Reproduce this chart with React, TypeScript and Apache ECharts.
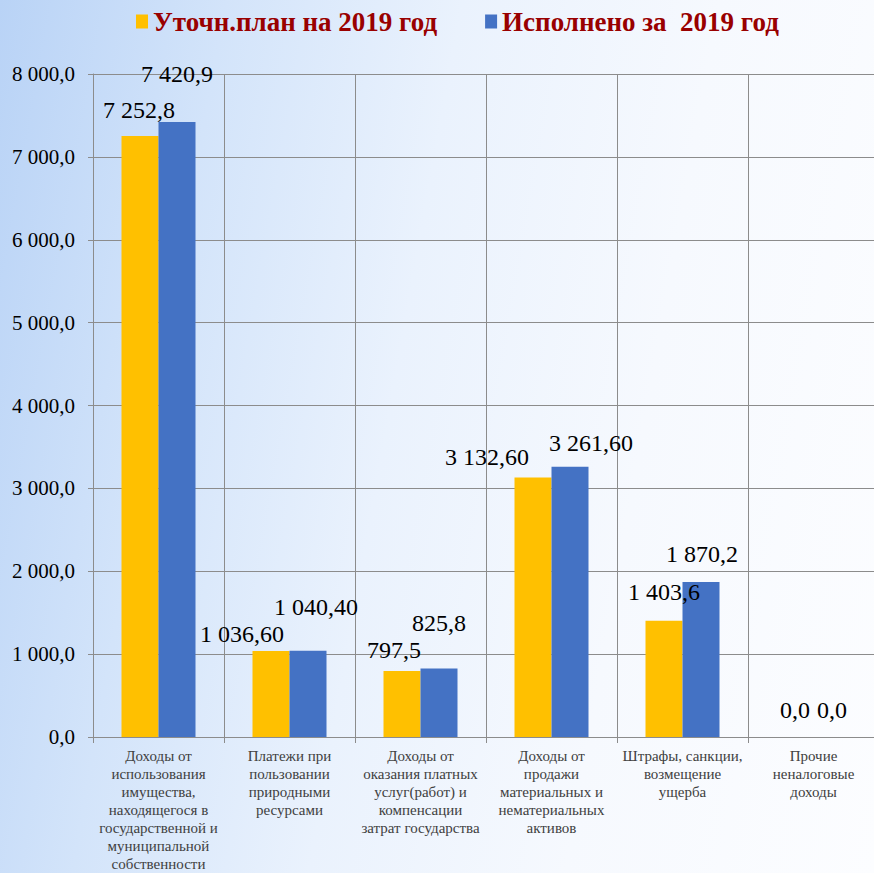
import React, { useEffect, useRef } from "react";
import * as echarts from "echarts";

const categories = [
  "Доходы от\nиспользования\nимущества,\nнаходящегося в\nгосударственной и\nмуниципальной\nсобственности",
  "Платежи при\nпользовании\nприродными\nресурсами",
  "Доходы от\nоказания платных\nуслуг(работ) и\nкомпенсации\nзатрат государства",
  "Доходы от\nпродажи\nматериальных и\nнематериальных\nактивов",
  "Штрафы, санкции,\nвозмещение\nущерба",
  "Прочие\nненалоговые\nдоходы",
];

const planValues = [7252.8, 1036.6, 797.5, 3132.6, 1403.6, 0.0];
const factValues = [7420.9, 1040.4, 825.8, 3261.6, 1870.2, 0.0];

const planLabels = ["7 252,8", "1 036,60", "797,5", "3 132,60", "1 403,6", "0,0"];
const factLabels = ["7 420,9", "1 040,40", "825,8", "3 261,60", "1 870,2", "0,0"];

const seriesNames = ["Уточн.план на 2019 год", "Исполнено за  2019 год"];

const planOffsets: [number, number][] = [
  [-1, -14], [-29, -5], [-8, -9], [-46, -8], [0, -17], [0, -15],
];
const factOffsets: [number, number][] = [
  [0, -36], [8, -32], [0, -34], [21, -12], [1, -16], [0, -15],
];

const SERIF = "Liberation Serif";

function fmtAxis(v: number): string {
  const s = Math.round(v).toString();
  const withSpaces = s.replace(/\B(?=(\d{3})+(?!\d))/g, " ");
  return withSpaces + ",0";
}

export default function App() {
  const ref = useRef<HTMLDivElement>(null);

  useEffect(() => {
    document.body.style.margin = "0";
    if (!ref.current) return;
    const chart = echarts.init(ref.current, undefined, { renderer: "svg" });

    const mkData = (vals: number[], labels: string[], offs: [number, number][]) =>
      vals.map((v, i) => ({
        value: v,
        label: {
          show: true,
          position: "top",
          distance: 0,
          fontFamily: SERIF,
          fontSize: 24,
          color: "#000000",
          formatter: labels[i],
          offset: offs[i],
        },
      }));

    chart.setOption({
      animation: false,
      backgroundColor: "transparent",
      textStyle: { fontFamily: SERIF },
      legend: {
        left: 131,
        top: 3,
        itemWidth: 12,
        itemHeight: 14,
        itemGap: 48,
        icon: "rect",
        textStyle: {
          fontFamily: SERIF,
          fontSize: 27,
          fontWeight: "bold",
          color: "#990000",
        },
        data: seriesNames,
      },
      grid: { left: 93, top: 74, width: 786, height: 663 },
      xAxis: {
        type: "category",
        data: categories,
        axisLine: { show: true, lineStyle: { color: "#8c8c8c", width: 1 } },
        axisTick: { show: true, length: 6, lineStyle: { color: "#8c8c8c" } },
        splitLine: { show: true, lineStyle: { color: "#8c8c8c", width: 1 } },
        axisLabel: {
          interval: 0,
          margin: 10,
          fontFamily: SERIF,
          fontSize: 15,
          lineHeight: 18,
          color: "#404040",
          align: "center",
        },
      },
      yAxis: {
        type: "value",
        min: 0,
        max: 8000,
        interval: 1000,
        axisLine: { show: true, lineStyle: { color: "#8c8c8c", width: 1 } },
        axisTick: { show: true, length: 5, lineStyle: { color: "#8c8c8c" } },
        splitLine: { show: true, lineStyle: { color: "#8c8c8c", width: 1 } },
        axisLabel: {
          formatter: (v: number) => fmtAxis(v),
          fontFamily: SERIF,
          fontSize: 21,
          color: "#000000",
          margin: 18,
        },
      },
      series: [
        {
          name: seriesNames[0],
          type: "bar",
          barWidth: 37,
          barGap: "0%",
          itemStyle: { color: "#FFC000" },
          data: mkData(planValues, planLabels, planOffsets),
        },
        {
          name: seriesNames[1],
          type: "bar",
          barWidth: 37,
          barGap: "0%",
          itemStyle: { color: "#4472C4" },
          data: mkData(factValues, factLabels, factOffsets),
        },
      ],
    });

    return () => chart.dispose();
  }, []);

  return (
    <div
      style={{
        width: 874,
        height: 873,
        overflow: "hidden",
        background:
          "linear-gradient(100deg, #b9d3f6 0%, #d3e4fa 22%, #eaf2fd 45%, #f6f9fe 70%, #fcfdff 100%)",
      }}
    >
      <div ref={ref} style={{ width: 900, height: 873 }} />
    </div>
  );
}
